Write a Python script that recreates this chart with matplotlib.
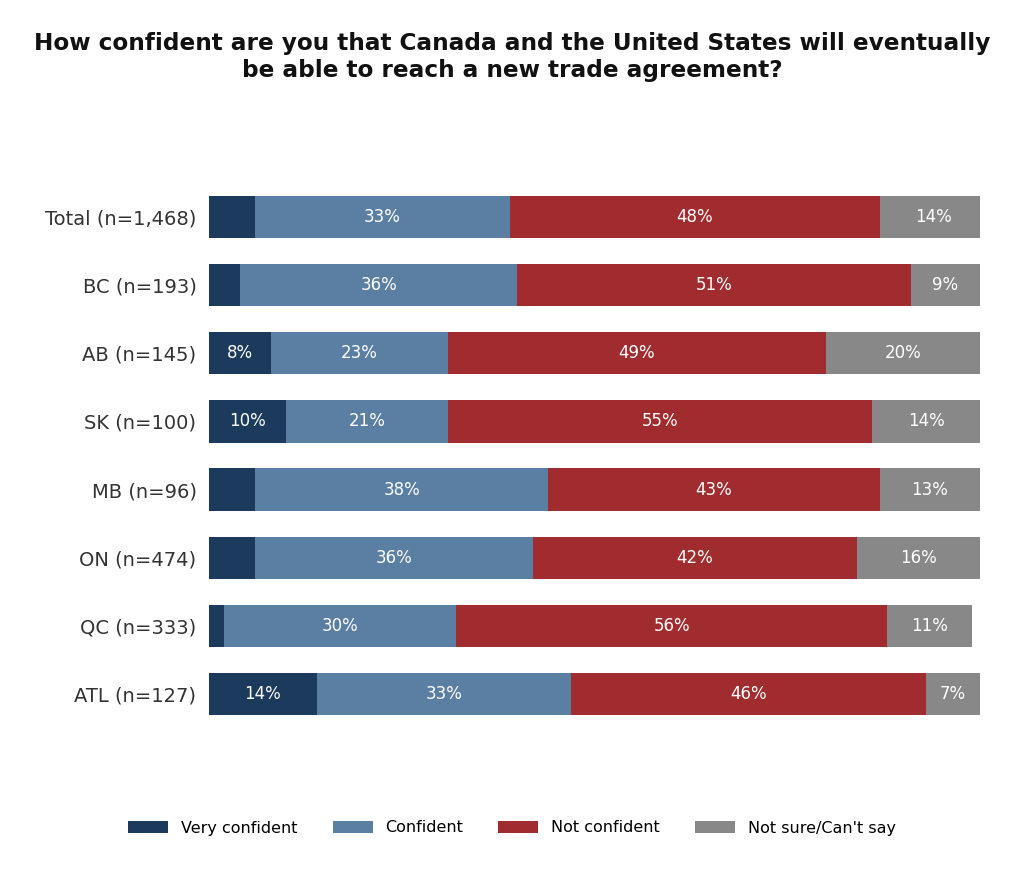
import matplotlib.pyplot as plt
import numpy as np

categories = ["Total (n=1,468)", "BC (n=193)", "AB (n=145)", "SK (n=100)", "MB (n=96)", "ON (n=474)", "QC (n=333)", "ATL (n=127)"]
very_confident = [6, 4, 8, 10, 6, 6, 2, 14]
confident = [33, 36, 23, 21, 38, 36, 30, 33]
not_confident = [48, 51, 49, 55, 43, 42, 56, 46]
not_sure = [14, 9, 20, 14, 13, 16, 11, 7]
series_names = ["Very confident", "Confident", "Not confident", "Not sure/Can't say"]
colors = ["#1b3a5c", "#5b7ea3", "#a12c2f", "#888888"]

fig = plt.figure(figsize=(10.24, 8.76), dpi=100)
ax = fig.add_axes([209/1024, 1-731.5/876, 771/1024, 552/876])
y = np.arange(len(categories))
left = np.zeros(len(categories))
for name, vals, c in zip(series_names, [very_confident, confident, not_confident, not_sure], colors):
    vals = np.array(vals, float)
    ax.barh(y, vals, left=left, color=c, height=0.62, label=name)
    for yi, l, v in zip(y, left, vals):
        if v >= 7:
            ax.text(l + v/2, yi, f"{int(v)}%", ha="center", va="center", color="white", fontsize=12)
    left += vals
ax.set_xlim(0, 100)
ax.set_ylim(len(categories) - 0.45, -0.55)
ax.set_yticks(y)
ax.set_yticklabels(categories, fontsize=14, color="#333333")
ax.set_xticks([])
ax.tick_params(axis="y", length=0, pad=9)
for s in ax.spines.values():
    s.set_visible(False)
fig.text(0.5, 1-57/876, "How confident are you that Canada and the United States will eventually\nbe able to reach a new trade agreement?",
         ha="center", va="center", fontsize=16.7, fontweight="bold", color="#111111")
fig.legend(loc="center", bbox_to_anchor=(0.5, 1-828/876), ncol=4, frameon=False, fontsize=11.5,
           handlelength=2.5, handleheight=0.8, columnspacing=2.2)
fig.savefig("out.png", dpi=100)
